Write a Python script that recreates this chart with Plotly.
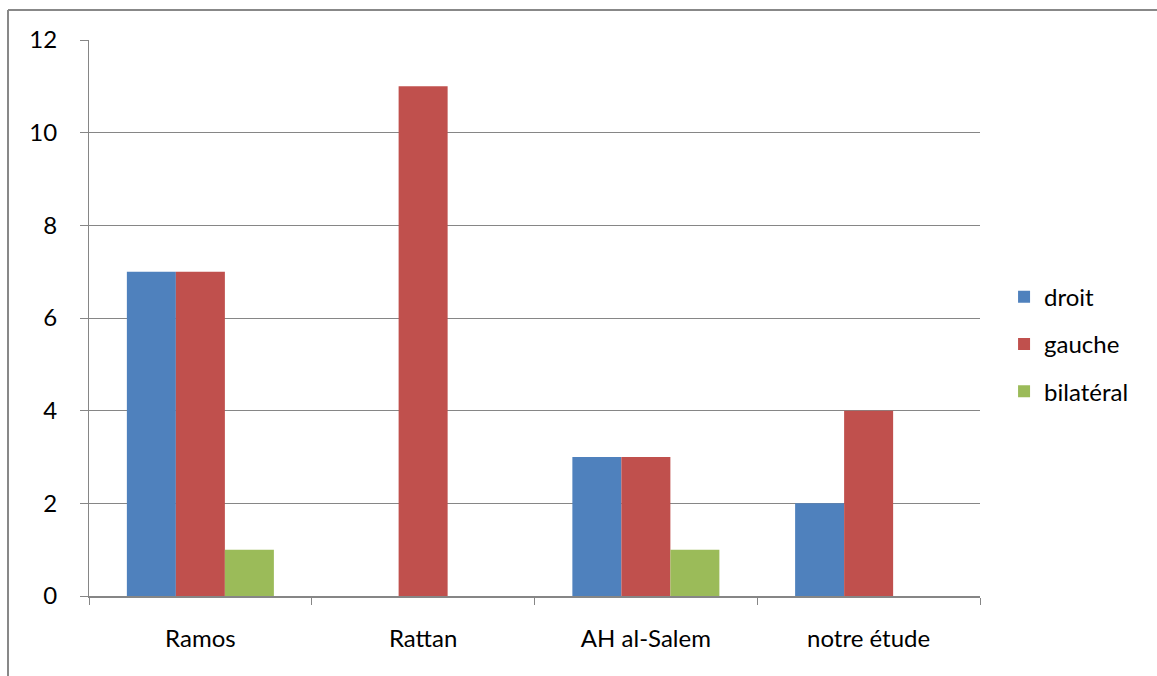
import plotly.graph_objects as go

# Category labels and values per series
categories = ["Ramos", "Rattan", "AH al-Salem", "notre étude"]
droit = [7, 0, 3, 2]
gauche = [7, 11, 3, 4]
bilateral = [1, 0, 1, 0]

series = [
    ("droit", droit, "#4F81BD"),
    ("gauche", gauche, "#C0504D"),
    ("bilatéral", bilateral, "#9BBB59"),
]

fig = go.Figure()
for name, vals, color in series:
    fig.add_trace(go.Bar(x=categories, y=vals, name=name, legendgroup=name,
                         marker=dict(color=color, line=dict(width=0))))

font_family = "Lato, 'Open Sans', sans-serif"

fig.update_layout(
    width=1157, height=676,
    margin=dict(l=89, r=177, t=40, b=80),
    paper_bgcolor="white", plot_bgcolor="white",
    barmode="group", bargap=0.34, bargroupgap=0,
    font=dict(family=font_family, size=24, color="black"),
    legend=dict(x=1.027, y=0.453, xanchor="left", yanchor="middle",
                font=dict(size=24), itemwidth=30, tracegroupgap=13,
                traceorder="grouped", bgcolor="rgba(0,0,0,0)"),
    showlegend=True,
)

fig.update_yaxes(range=[0, 12], dtick=2, showgrid=True, gridcolor="#868686",
                 gridwidth=1, showline=True, linecolor="#868686", linewidth=1,
                 ticks="outside", ticklen=8, tickcolor="#868686",
                 ticklabelstandoff=18, zeroline=False, fixedrange=True)
fig.update_xaxes(showline=True, linecolor="#868686", linewidth=1.5,
                 ticks="outside", tickson="boundaries", ticklen=7,
                 tickcolor="#868686", ticklabelstandoff=20, showgrid=False)

# Outer chart frame
fig.add_shape(type="line", xref="paper", yref="paper",
              x0=-0.0909, x1=-0.0909, y0=-0.3, y1=1.054,
              line=dict(color="#888888", width=2))
fig.add_shape(type="line", xref="paper", yref="paper",
              x0=-0.0909, x1=1.3, y0=1.054, y1=1.054,
              line=dict(color="#888888", width=2))

fig.write_html("out.html")
